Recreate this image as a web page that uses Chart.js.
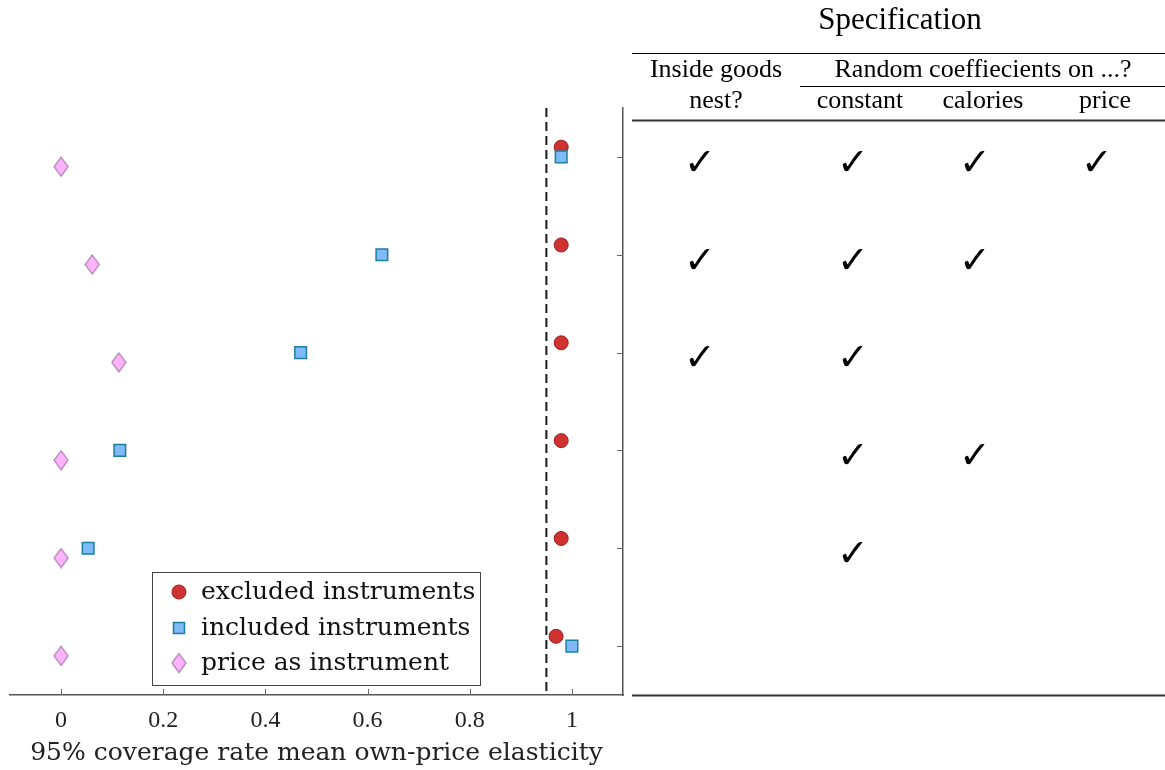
<!DOCTYPE html>
<html>
<head>
<meta charset="utf-8">
<script src="https://cdn.jsdelivr.net/npm/chart.js@4.4.1/dist/chart.umd.min.js"></script>
<style>
html, body { margin: 0; padding: 0; background: #fff; }
canvas { display: block; }
</style>
</head>
<body>
<canvas id="chart" width="1165" height="770"></canvas>
<script>
// rows of the specification table, top to bottom
const rows = [6, 5, 4, 3, 2, 1];
const excludedIV = [0.979, 0.979, 0.979, 0.979, 0.979, 0.969];
const includedIV = [0.979, 0.628, 0.469, 0.115, 0.053, 1.0];
const priceIV = [0, 0.061, 0.113, 0, 0, 0];
const seriesLabels = ["excluded instruments", "included instruments", "price as instrument"];
const rowOffsets = [0.1, 0, -0.1]; // circle above, square on, diamond below the row
const coverageTarget = 0.95;
const xTicks = [0, 0.2, 0.4, 0.6, 0.8, 1];
const xTitle = "95% coverage rate mean own-price elasticity";

// specification table (1 = check mark)
const nestCheck = [1, 1, 1, 0, 0, 0];
const constantCheck = [1, 1, 1, 1, 1, 0];
const caloriesCheck = [1, 1, 0, 1, 0, 0];
const priceCheck = [1, 0, 0, 0, 0, 0];
const checkColumns = [nestCheck, constantCheck, caloriesCheck, priceCheck];
const checkX = [700, 853, 975, 1097];

const SERIF = '"Liberation Serif", "Times New Roman", serif';
const CM = '"DejaVu Serif", serif';

const RED = "#d03232", RED_EDGE = "#9c1c1c";
const BLUE = "#80b9f8", BLUE_EDGE = "#1c7f9e";
const PINK = "#ffb3ff", PINK_EDGE = "#a27ca2";

function diamondImage(w, h) {
  const c = document.createElement("canvas");
  c.width = w + 2;
  c.height = h + 2;
  const g = c.getContext("2d");
  g.beginPath();
  g.moveTo(c.width / 2, 1);
  g.lineTo(c.width - 1, c.height / 2);
  g.lineTo(c.width / 2, c.height - 1);
  g.lineTo(1, c.height / 2);
  g.closePath();
  g.fillStyle = PINK;
  g.fill();
  g.lineWidth = 1.2;
  g.strokeStyle = PINK_EDGE;
  g.stroke();
  return c;
}
const diamond = diamondImage(14, 19);

function toPoints(values, offset) {
  return values.map((v, i) => ({ x: v, y: rows[i] + offset }));
}

const tablePlugin = {
  id: "tablePlugin",
  afterDraw(chart) {
    const { ctx, chartArea, scales } = chart;
    const xs = scales.x, ys = scales.y;

    // inward tick marks
    ctx.save();
    ctx.strokeStyle = "#666";
    ctx.lineWidth = 1;
    xTicks.forEach((t) => {
      const px = Math.round(xs.getPixelForValue(t)) + 0.5;
      ctx.beginPath();
      ctx.moveTo(px, chartArea.bottom);
      ctx.lineTo(px, chartArea.bottom - 6);
      ctx.stroke();
    });
    rows.forEach((r) => {
      const py = Math.round(ys.getPixelForValue(r)) + 0.5;
      ctx.beginPath();
      ctx.moveTo(chartArea.right, py);
      ctx.lineTo(chartArea.right - 6, py);
      ctx.stroke();
    });
    ctx.restore();

    // legend
    ctx.save();
    ctx.fillStyle = "#fff";
    ctx.fillRect(152, 572, 328, 113);
    ctx.strokeStyle = "#444";
    ctx.lineWidth = 1;
    ctx.strokeRect(152.5, 572.5, 328, 113);
    const ly = [592, 628, 663];
    ctx.font = "25px " + CM;
    ctx.textBaseline = "middle";
    ctx.textAlign = "left";
    seriesLabels.forEach((lab, i) => {
      const mx = 179, my = ly[i];
      if (i === 0) {
        ctx.beginPath();
        ctx.arc(mx, my, 7, 0, Math.PI * 2);
        ctx.fillStyle = RED; ctx.fill();
        ctx.strokeStyle = RED_EDGE; ctx.stroke();
      } else if (i === 1) {
        ctx.fillStyle = BLUE; ctx.fillRect(mx - 5.5, my - 5.5, 11, 11);
        ctx.strokeStyle = BLUE_EDGE; ctx.lineWidth = 1.5;
        ctx.strokeRect(mx - 5.5, my - 5.5, 11, 11);
        ctx.lineWidth = 1;
      } else {
        ctx.drawImage(diamond, mx - diamond.width / 2, my - diamond.height / 2);
      }
      ctx.fillStyle = "#111";
      ctx.fillText(lab, 201, my);
    });
    ctx.restore();

    // specification table
    ctx.save();
    ctx.fillStyle = "#000";
    ctx.textAlign = "center";
    ctx.textBaseline = "middle";
    ctx.font = "31px " + SERIF;
    ctx.fillText("Specification", 900, 21);
    ctx.font = "26px " + SERIF;
    ctx.fillText("Inside goods", 716, 70);
    ctx.fillText("nest?", 716, 101);
    ctx.fillText("Random coeffiecients on ...?", 983, 70);
    ctx.fillText("constant", 860, 101);
    ctx.fillText("calories", 983, 101);
    ctx.fillText("price", 1105, 101);

    ctx.strokeStyle = "#000";
    const hline = (y, x0, w) => {
      ctx.beginPath(); ctx.moveTo(x0, y); ctx.lineTo(1165, y); ctx.lineWidth = w; ctx.stroke();
    };
    hline(53.5, 632, 1.2);
    hline(86.5, 800, 1.2);
    ctx.strokeStyle = "#333";
    hline(120.5, 632, 2);
    hline(chartArea.bottom + 0.5, 632, 2);

    ctx.font = "bold 38px \"DejaVu Sans\", sans-serif";
    ctx.fillStyle = "#000";
    checkColumns.forEach((col, c) => {
      col.forEach((on, i) => {
        if (!on) return;
        const py = ys.getPixelForValue(rows[i]) + 8;
        ctx.fillText("\u2713", checkX[c], py);
      });
    });
    ctx.restore();
  }
};

new Chart(document.getElementById("chart"), {
  type: "scatter",
  data: {
    datasets: [
      {
        label: seriesLabels[0],
        data: toPoints(excludedIV, rowOffsets[0]),
        pointStyle: "circle",
        pointRadius: 7,
        backgroundColor: RED,
        borderColor: RED_EDGE,
        borderWidth: 1,
        order: 2,
      },
      {
        label: seriesLabels[1],
        data: toPoints(includedIV, rowOffsets[1]),
        pointStyle: "rect",
        pointRadius: 8.2,
        backgroundColor: BLUE,
        borderColor: BLUE_EDGE,
        borderWidth: 1.5,
        order: 1,
      },
      {
        label: seriesLabels[2],
        data: toPoints(priceIV, rowOffsets[2]),
        pointStyle: diamond,
        pointRadius: 9,
        order: 1,
      },
      {
        label: "95%",
        data: [{ x: coverageTarget, y: 6.5 }, { x: coverageTarget, y: 0.5 }],
        showLine: true,
        borderColor: "#1a1a1a",
        borderWidth: 2,
        borderDash: [9, 5],
        pointRadius: 0,
        order: 3,
      },
    ],
  },
  options: {
    responsive: false,
    animation: false,
    layout: { padding: { left: 10, top: 108, right: 542, bottom: 0 } },
    plugins: { legend: { display: false }, tooltip: { enabled: false } },
    scales: {
      x: {
        type: "linear",
        min: -0.1,
        max: 1.1,
        afterBuildTicks: (s) => { s.ticks = xTicks.map((v) => ({ value: v })); },
        afterFit: (s) => { s.height = 75; },
        grid: { drawOnChartArea: false, drawTicks: false },
        border: { display: true, color: "#555", width: 1.5 },
        ticks: {
          padding: 11,
          color: "#222",
          font: { family: SERIF, size: 24 },
          callback: (v) => String(v),
        },
        title: {
          display: true,
          text: xTitle,
          color: "#222",
          font: { family: CM, size: 25 },
          padding: { top: 0, bottom: 2 },
        },
      },
      y: {
        type: "linear",
        position: "right",
        min: 0.5,
        max: 6.5,
        afterFit: (s) => { s.width = 0; },
        grid: { drawOnChartArea: false, drawTicks: false },
        border: { display: true, color: "#555", width: 1.5 },
        ticks: { display: false },
      },
    },
  },
  plugins: [tablePlugin],
});
</script>
</body>
</html>
